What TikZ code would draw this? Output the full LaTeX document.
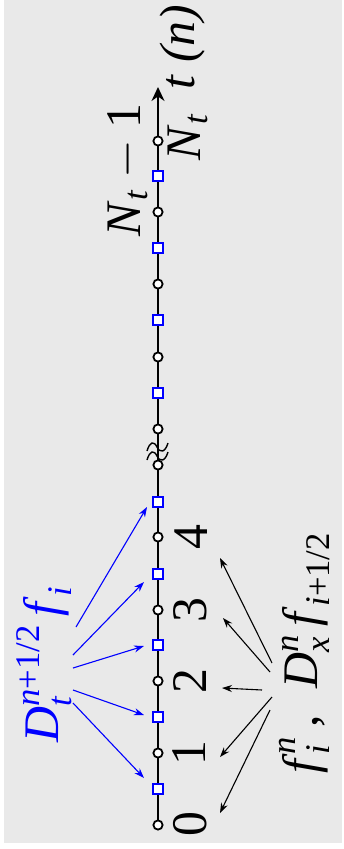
\documentclass[tikz,border=0pt]{standalone}
\usepackage{amsmath}
\usepackage{fontspec}
\setmainfont{Liberation Serif}
\DeclareMathSizes{24.88}{24.88}{17.28}{12}
\usetikzlibrary{arrows.meta}
\definecolor{bggray}{HTML}{E9E9E9}
\definecolor{myblue}{RGB}{0,0,255}
\newcommand{\bigtxt}[1]{\scalebox{2}{\Huge #1}}
\newcommand{\ti}[1]{\text{\itshape #1\/}}
\newcommand{\ff}{\mathord{\text{\itshape f}\kern3pt}}
\tikzset{
  circpt/.style={circle,draw=black,fill=white,line width=1.8pt,inner sep=0pt,minimum size=9.2pt},
  sqpt/.style={rectangle,draw=myblue,fill=white,line width=1.9pt,inner sep=0pt,minimum size=10pt},
  lbl/.style={rotate=90,inner sep=0pt},
  barrow/.style={myblue,line width=1.1pt,-{Stealth[length=10pt,width=7pt]}},
  karrow/.style={black,line width=1.1pt,-{Stealth[length=10pt,width=7pt]}},
  axisline/.style={line width=2pt,-{Stealth[length=14pt,width=13pt]}},
}
\begin{document}
\begin{tikzpicture}[x=1pt,y=-1pt]
\useasboundingbox (0,0) rectangle (343,849);
\fill[bggray] (4,0) rectangle (342,843);
% axis
\coordinate (ax0) at (158,824);
\coordinate (axtop) at (158,87);
\draw[axisline] (ax0) -- (axtop);
% break symbol
\draw[line width=1.4pt] (147,451) .. controls (150,441) and (154,441) .. (157,447) .. controls (160,453) and (165,453) .. (168,443);
\draw[line width=1.4pt] (147,460) .. controls (150,450) and (154,450) .. (157,456) .. controls (160,462) and (165,462) .. (168,452);
% squares
\node[sqpt] (s0) at (158,789) {};
\node[sqpt] (s1) at (158,717) {};
\node[sqpt] (s2) at (158,645) {};
\node[sqpt] (s3) at (158,574) {};
\node[sqpt] (s4) at (158,502) {};
\node[sqpt] (s5) at (158,393) {};
\node[sqpt] (s6) at (158,320) {};
\node[sqpt] (s7) at (158,248) {};
\node[sqpt] (s8) at (158,176) {};
% circles
\node[circpt] (c0) at (158,825) {};
\node[circpt] (c1) at (158,753) {};
\node[circpt] (c2) at (158,681) {};
\node[circpt] (c3) at (158,610) {};
\node[circpt] (c4) at (158,537) {};
\node[circpt] (c5) at (158,465) {};
\node[circpt] (c6) at (158,429) {};
\node[circpt] (c7) at (158,357) {};
\node[circpt] (c8) at (158,284) {};
\node[circpt] (c9) at (158,212) {};
\node[circpt] (c10) at (158,141) {};
% digit labels
\node[lbl] (l0) at (190,824) {\bigtxt{0}};
\node[lbl] (l1) at (189,753) {\bigtxt{1}};
\node[lbl] (l2) at (190,681) {\bigtxt{2}};
\node[lbl] (l3) at (190,610) {\bigtxt{3}};
\node[lbl] (l4) at (191,537) {\bigtxt{4}};
\node[lbl] (lNt) at (188,137) {\bigtxt{$\ti{N}_{\ti{t}}$}};
\node[lbl] (lNt1) at (128,170) {\bigtxt{$\ti{N}_{\ti{t}}-\text{1}$}};
\node[lbl] (ltn) at (183,47) {\bigtxt{\itshape t (n)}};
% main labels
\node[lbl,text=myblue] (Dt) at (44,664) {\bigtxt{$\ti{D}_{\ti{t}}^{\ti{n}\text{+1/2}}\,\ff_{\ti{i}}$}};
\node[lbl] (fx) at (305,653) {\bigtxt{$\ff_{\ti{i}}^{\ti{n}}$\,,\; $\ti{D}_{\ti{x}}^{\ti{n}}\,\ff_{\ti{i}\text{+1/2}}$}};
% blue arrows
\coordinate (b0s) at (73,703); \coordinate (b0e) at (144,778);
\coordinate (b1s) at (73,690); \coordinate (b1e) at (144,715);
\coordinate (b2s) at (73,668); \coordinate (b2e) at (144,646);
\coordinate (b3s) at (73,655); \coordinate (b3e) at (144,582);
\coordinate (b4s) at (76,627); \coordinate (b4e) at (147,507);
\foreach \i in {0,...,4} {\draw[barrow] (b\i s) -- (b\i e);}
% black arrows
\coordinate (k0s) at (270,710); \coordinate (k0e) at (220,813);
\coordinate (k1s) at (272,697); \coordinate (k1e) at (220,757);
\coordinate (k2s) at (262,690); \coordinate (k2e) at (222,688);
\coordinate (k3s) at (270,672); \coordinate (k3e) at (223,618);
\coordinate (k4s) at (272,663); \coordinate (k4e) at (220,558);
\foreach \i in {0,...,4} {\draw[karrow] (k\i s) -- (k\i e);}
\end{tikzpicture}
\end{document}
